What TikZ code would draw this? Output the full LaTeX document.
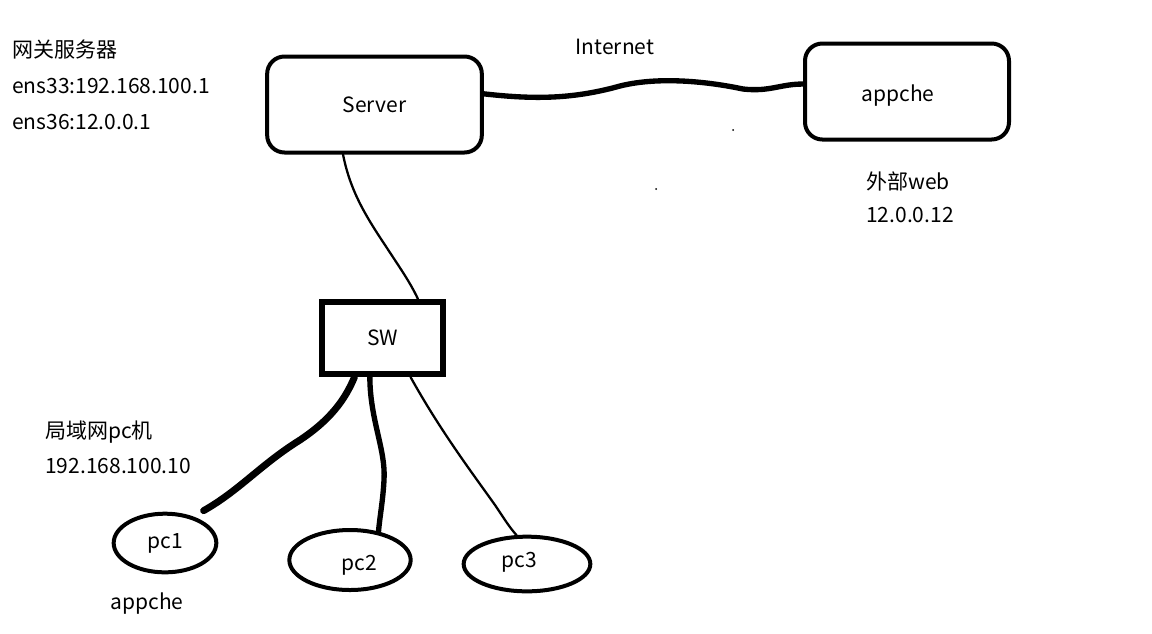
\documentclass[tikz,border=0pt]{standalone}
\usepackage{fontspec}
\setmainfont{Noto Sans CJK SC}
\usetikzlibrary{shapes.geometric}
\begin{document}
\begin{tikzpicture}[x=0.75pt,y=-0.75pt,
  every node/.style={font=\fontsize{15.75}{19}\selectfont},
  rbox/.style={draw,line width=3pt,rounded corners=13pt,minimum height=72pt,inner sep=0pt},
  swbox/.style={draw,line width=4.5pt,minimum width=91pt,minimum height=54pt,inner sep=0pt},
  pcell/.style={draw,ellipse,line width=3pt,inner sep=0pt},
  txt/.style={anchor=west,inner sep=0pt},
  wire/.style={line width=1.7pt,line cap=round},
  thickwire/.style={line width=4pt,line cap=round},
  fatwire/.style={line width=5.2pt,line cap=round}]
\useasboundingbox (0,0) rectangle (1152,633);

% boxes
\node[rbox,minimum width=161pt] (server) at (374.5,104.5) {Server};
\node[rbox,minimum width=153pt,label={[xshift=-6.75pt,yshift=-3.4pt]center:appche}] (appche) at (907,91.5) {};
\node[swbox] (sw) at (382.5,338) {SW};

% pcs
\node[pcell,minimum width=77pt,minimum height=44pt] (pc1) at (165,543) {pc1};
\node[pcell,minimum width=91pt,minimum height=45pt,label={[xshift=6.75pt,yshift=-3.75pt]center:pc2}] (pc2) at (350,560) {};
\node[pcell,minimum width=95pt,minimum height=41pt,label={[xshift=-6pt,yshift=1.5pt]center:pc3}] (pc3) at (527,564) {};

% texts
\node[txt] (gw) at (12,50) {网关服务器};
\node[txt] (ens33) at (12,86) {ens33:192.168.100.1};
\node[txt] (ens36) at (12,122) {ens36:12.0.0.1};
\node (inet) at (615,47) {Internet};
\node[txt] (web) at (866,181) {外部web};
\node[txt] (webip) at (866,215) {12.0.0.12};
\node[txt] (lan) at (45,432) {局域网pc机};
\node[txt] (lanip) at (45,466) {192.168.100.10};
\node (pcapp) at (147,604) {appche};

% connectors
\draw[thickwire] ([yshift=8pt]server.east) .. controls (530,99) and (570,100) .. (620,86)
  .. controls (660,76) and (710,82) .. (743,89) .. controls (770,92) and (780,84) .. ([yshift=5.6pt]appche.west);
\draw[wire] ([xshift=-23.6pt]server.south) .. controls (350,190) and (365,215) .. (385,245)
  .. controls (400,268) and (410,282) .. ([xshift=26.6pt]sw.north);
\draw[fatwire] ([xshift=-21pt]sw.south) .. controls (345,400) and (330,420) .. (300,440)
  .. controls (260,465) and (240,490) .. ([xshift=6pt,yshift=5pt]pc1.40);
\draw[thickwire] ([xshift=-9.5pt]sw.south) .. controls (370,420) and (386,450) .. (384,480)
  .. controls (383,500) and (380,515) .. (pc2.45);
\draw[wire] ([xshift=21pt]sw.south) .. controls (440,430) and (470,470) .. (495,505)
  .. controls (505,520) and (510,528) .. (pc3.110);

% specks
\fill (733,130) circle (1);
\fill (656,189) circle (1);
\end{tikzpicture}
\end{document}
